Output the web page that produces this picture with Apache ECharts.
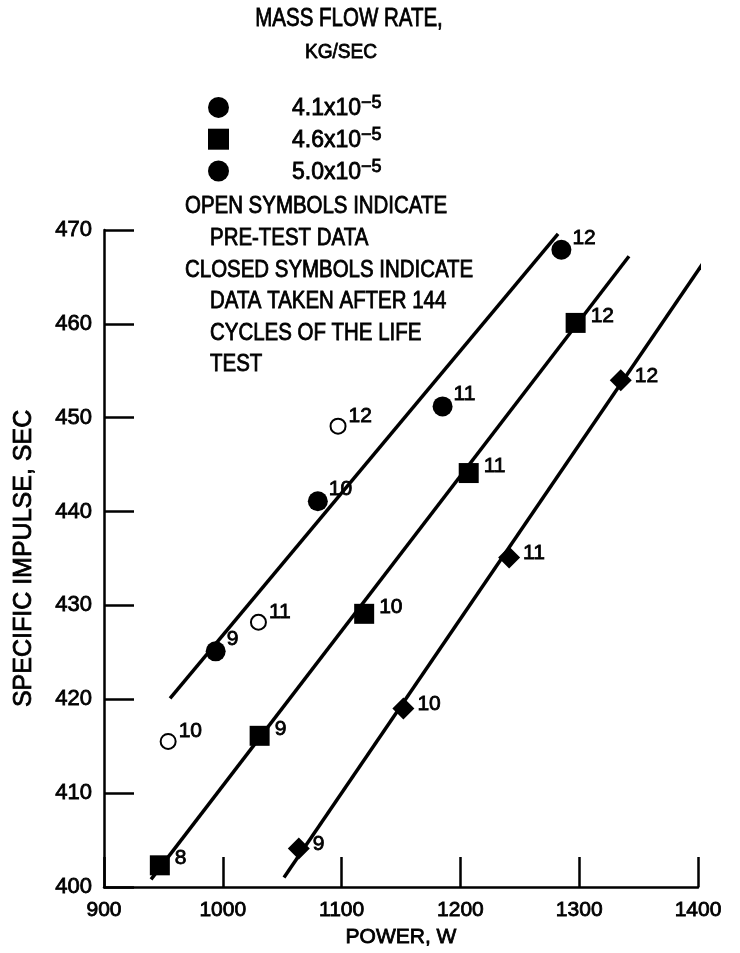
<!DOCTYPE html>
<html>
<head>
<meta charset="utf-8">
<script src="https://cdn.jsdelivr.net/npm/echarts@6/dist/echarts.min.js"></script>
<style>
html,body{margin:0;padding:0;background:#ffffff;}
#chart{width:740px;height:953px;}
</style>
</head>
<body>
<div id="chart"></div>
<script>
// ---------------- data ----------------
const xTickValues = [900, 1000, 1100, 1200, 1300, 1400];
const yTickValues = [400, 410, 420, 430, 440, 450, 460, 470];

// closed circles (4.1x10^-5 kg/sec), after 144 cycles
const closedCircleX = [994, 1080, 1185, 1285];
const closedCircleY = [425.1, 441.1, 451.2, 467.9];
const closedCircleRun = ['9', '10', '11', '12'];

// open circles, pre-test data
const openCircleX = [954, 1030, 1097];
const openCircleY = [415.5, 428.2, 449.1];
const openCircleRun = ['10', '11', '12'];

// closed squares (4.6x10^-5 kg/sec)
const squareX = [947, 1031, 1119, 1207, 1297];
const squareY = [402.3, 416.1, 429.1, 444.1, 460.1];
const squareRun = ['8', '9', '10', '11', '12'];

// closed diamonds (5.0x10^-5 kg/sec)
const diamondX = [1064, 1152, 1241, 1335];
const diamondY = [404.1, 419.0, 435.1, 454.0];
const diamondRun = ['9', '10', '11', '12'];

// faired lines (end points)
const fit1X = [955.6, 1282.2];
const fit1Y = [420.1, 469.6];
const fit2X = [939.6, 1341.9];
const fit2Y = [400.8, 467.2];
const fit3X = [1051.5, 1405];
const fit3Y = [401.0, 466.6];

const seriesNames = ['4.1x10-5', '4.6x10-5', '5.0x10-5'];
const legendMantissa = ['4.1x10', '4.6x10', '5.0x10'];
const legendExponent = '\u22125';
const legendTitle = 'MASS FLOW RATE,';
const legendUnit = 'KG/SEC';
const noteLines = [
  'OPEN SYMBOLS INDICATE',
  '  PRE-TEST DATA',
  'CLOSED SYMBOLS INDICATE',
  '  DATA TAKEN AFTER 144',
  '  CYCLES OF THE LIFE',
  '  TEST'
];
const xAxisName = 'POWER, W';
const yAxisName = 'SPECIFIC IMPULSE, SEC';

// ---------------- helpers ----------------
const FONT = "'Liberation Sans', Arial, sans-serif";
const INK = '#000000';
const HEAVY = { textBorderColor: INK, textBorderWidth: 0.8 };
function zip(xs, ys, labels) {
  return xs.map((x, i) => labels ? [x, ys[i], labels[i]] : [x, ys[i]]);
}
function fitSeries(xs, ys) {
  return {
    type: 'line', data: zip(xs, ys), symbol: 'none', silent: true, clip: false,
    lineStyle: { color: INK, width: 3.5 }, z: 2
  };
}
function pointLabel(dist, dy) {
  return Object.assign({
    show: true, position: 'right', distance: dist, offset: [0, dy],
    formatter: p => p.value[2], color: INK, fontFamily: FONT, fontSize: 21
  }, HEAVY);
}
function graphicText(text, x, y, size, sx, align) {
  return {
    type: 'text', x: x, y: y, scaleX: sx,
    style: { text: text, fontFamily: FONT, fontSize: size, fill: INK,
             stroke: INK, lineWidth: 0.8,
             textAlign: align, textVerticalAlign: 'middle' }
  };
}

const chart = echarts.init(document.getElementById('chart'), null, { renderer: 'canvas' });

const notes = noteLines.map((t, i) =>
  graphicText(t.trim(), t.startsWith('  ') ? 210 : 185, 207 + i * 31.6, 23.5, 0.87, 'left'));

const option = {
  animation: false,
  backgroundColor: '#ffffff',
  grid: { left: 104, right: 42, top: 230, bottom: 63, containLabel: false },
  xAxis: {
    type: 'value', min: xTickValues[0], max: xTickValues[xTickValues.length - 1], interval: 100,
    name: xAxisName, nameLocation: 'middle', nameGap: 37,
    nameTextStyle: Object.assign({ fontFamily: FONT, fontSize: 21, color: INK }, HEAVY),
    axisLine: { show: true, onZero: false, lineStyle: { color: INK, width: 2.5 } },
    axisTick: { show: true, inside: true, length: 30, lineStyle: { color: INK, width: 2.5 } },
    axisLabel: Object.assign({ fontFamily: FONT, fontSize: 21, color: INK, margin: 13, formatter: v => String(v) }, HEAVY),
    splitLine: { show: false }
  },
  yAxis: {
    type: 'value', min: yTickValues[0], max: yTickValues[yTickValues.length - 1], interval: 10,
    name: yAxisName, nameLocation: 'middle', nameRotate: 90, nameGap: 67,
    nameTextStyle: Object.assign({ fontFamily: FONT, fontSize: 25, color: INK }, HEAVY),
    axisLine: { show: true, onZero: false, lineStyle: { color: INK, width: 2.5 } },
    axisTick: { show: true, inside: true, length: 30, lineStyle: { color: INK, width: 2.5 } },
    axisLabel: Object.assign({ fontFamily: FONT, fontSize: 22, color: INK, margin: 12, formatter: v => String(v) }, HEAVY),
    splitLine: { show: false }
  },
  legend: {
    show: true, orient: 'vertical', left: 203, top: 89, itemGap: 5,
    itemWidth: 21, itemHeight: 21, selectedMode: false,
    data: [
      { name: seriesNames[0], icon: 'circle' },
      { name: seriesNames[1], icon: 'rect' },
      { name: seriesNames[2], icon: 'circle' }
    ],
    formatter: name => {
      const i = seriesNames.indexOf(name);
      return '{a|' + legendMantissa[i] + '}{s|' + legendExponent + '}';
    },
    textStyle: {
      color: INK, fontFamily: FONT,
      rich: {
        a: Object.assign({ fontFamily: FONT, fontSize: 23, color: INK, lineHeight: 26, verticalAlign: 'bottom', padding: [0, 0, 0, 58] }, HEAVY),
        s: Object.assign({ fontFamily: FONT, fontSize: 18, color: INK, lineHeight: 14, verticalAlign: 'top' }, HEAVY)
      }
    }
  },
  graphic: [
    graphicText(legendTitle, 349, 19, 25, 0.82, 'center'),
    graphicText(legendUnit, 341, 52, 21, 0.91, 'center')
  ].concat(notes),
  series: [
    fitSeries(fit1X, fit1Y),
    fitSeries(fit2X, fit2Y),
    fitSeries(fit3X, fit3Y),
    {
      name: seriesNames[0], type: 'scatter', data: zip(closedCircleX, closedCircleY, closedCircleRun),
      symbol: 'circle', symbolSize: 20, itemStyle: { color: INK, opacity: 1 },
      label: pointLabel(1, -12), z: 3
    },
    {
      name: seriesNames[1], type: 'scatter', data: zip(squareX, squareY, squareRun),
      symbol: 'rect', symbolSize: 20, itemStyle: { color: INK, opacity: 1 },
      label: pointLabel(5, -7), z: 3
    },
    {
      name: seriesNames[2], type: 'scatter', data: zip(diamondX, diamondY, diamondRun),
      symbol: 'diamond', symbolSize: 22, itemStyle: { color: INK, opacity: 1 },
      label: pointLabel(3, -4), z: 3
    },
    {
      name: 'PRE-TEST', type: 'scatter', data: zip(openCircleX, openCircleY, openCircleRun),
      symbol: 'circle', symbolSize: 15, itemStyle: { color: '#ffffff', borderColor: INK, borderWidth: 2, opacity: 1 },
      label: pointLabel(2, -10), z: 3
    }
  ]
};
chart.setOption(option);
</script>
</body>
</html>
